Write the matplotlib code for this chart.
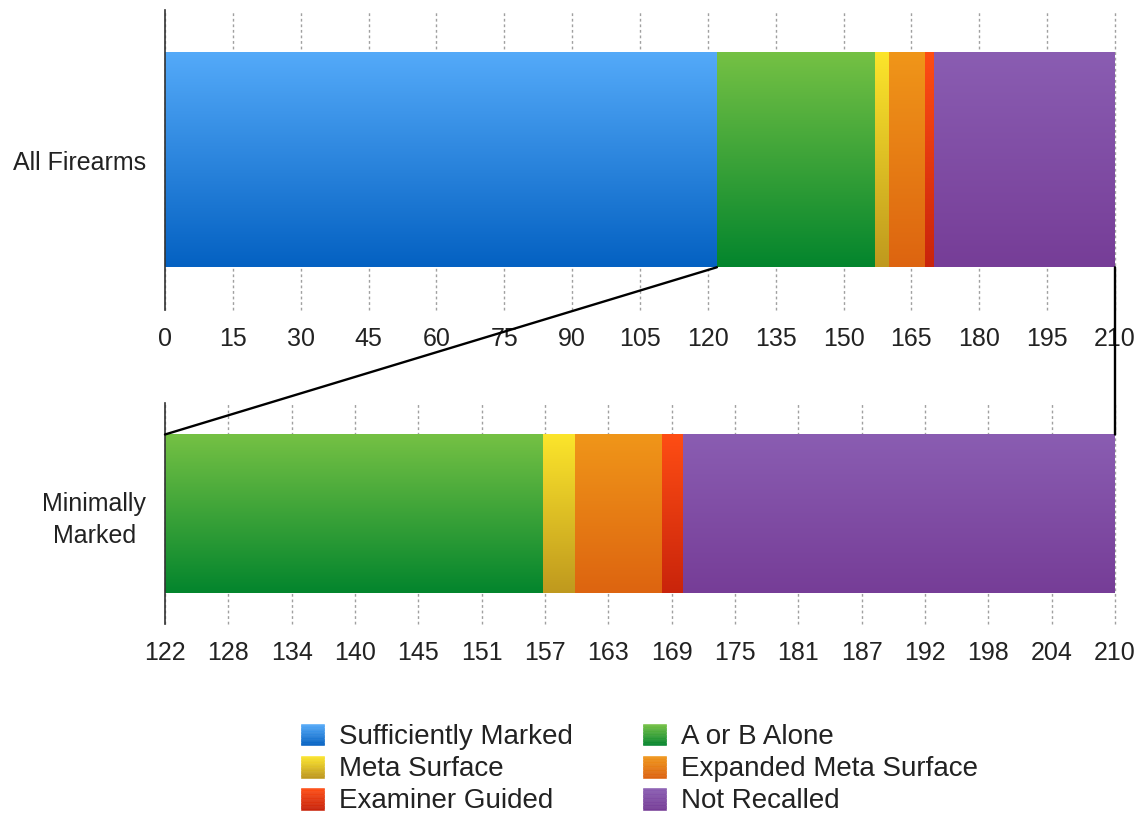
import matplotlib
matplotlib.use("Agg")
import matplotlib.pyplot as plt
import matplotlib.colors as mcolors
from matplotlib.patches import Rectangle, ConnectionPatch
from matplotlib.legend_handler import HandlerBase
import numpy as np

plt.rcParams['font.family'] = ['Liberation Sans', 'DejaVu Sans']

# data
categories = ["Sufficiently Marked", "A or B Alone", "Meta Surface",
              "Expanded Meta Surface", "Examiner Guided", "Not Recalled"]
all_firearms = [122, 35, 3, 8, 2, 40]
minimally_marked = [0, 35, 3, 8, 2, 40]   # starts where sufficiently marked ends
row_labels = ["All Firearms", "Minimally\nMarked"]
top_ticks = [0, 15, 30, 45, 60, 75, 90, 105, 120, 135, 150, 165, 180, 195, 210]
bottom_tick_labels = [122, 128, 134, 140, 145, 151, 157, 163, 169, 175,
                      181, 187, 192, 198, 204, 210]

# gradient colors (top, bottom) per category
grad_colors = [("#54aaf9", "#0461c2"),
               ("#75c144", "#03852d"),
               ("#fce52b", "#bf991e"),
               ("#f09619", "#dd6410"),
               ("#fe4d14", "#c9240b"),
               ("#8a5db2", "#763d97")]

TEXT = "#222222"
FS = 18
LEG_FS = 20
BAR_H = 0.715


def grad_cmap(top, bot):
    return mcolors.LinearSegmentedColormap.from_list("g", [top, bot])


def gradient_bars(ax, start, widths, skip_zero=True):
    left = start
    for w, (top, bot) in zip(widths, grad_colors):
        if w == 0 and skip_zero:
            continue
        bars = ax.barh(0, w, left=left, height=BAR_H, color="none", zorder=2)
        for p in bars:
            x, y = p.get_x(), p.get_y()
            img = np.linspace(0, 1, 256).reshape(-1, 1)
            ax.imshow(img, cmap=grad_cmap(top, bot), aspect="auto", origin="upper",
                      extent=(x, x + p.get_width(), y, y + p.get_height()), zorder=2)
        left += w


def style_axis(ax, ticks, labels, lo, hi, pad):
    ax.set_xlim(lo, hi)
    ax.set_ylim(-0.5, 0.5)
    ax.set_xticks(ticks)
    ax.set_xticklabels([str(t) for t in labels])
    ax.tick_params(axis="x", length=0, pad=pad, labelsize=FS, labelcolor=TEXT)
    ax.tick_params(axis="y", length=0, pad=13.5, labelsize=FS, labelcolor=TEXT)
    for s in ["top", "right", "bottom"]:
        ax.spines[s].set_visible(False)
    ax.spines["left"].set_color("#333333")
    ax.spines["left"].set_linewidth(1.2)
    ax.spines["left"].set_zorder(3)
    ax.grid(axis="x", color="#a0a0a0", linestyle=(0, (2, 2)), linewidth=1, zorder=0)
    for gl in ax.get_xgridlines():
        gl.set_clip_on(False)
    ax.set_axisbelow(True)


class GradSwatch:
    def __init__(self, top, bot):
        self.top, self.bot = top, bot


class GradHandler(HandlerBase):
    def create_artists(self, legend, orig_handle, xdescent, ydescent,
                       width, height, fontsize, trans):
        cm = grad_cmap(orig_handle.top, orig_handle.bot)
        n = 16
        arts = []
        for i in range(n):
            c = cm(i / (n - 1))
            y0 = -ydescent + height * (1 - (i + 1) / n)
            arts.append(Rectangle((-xdescent, y0), width, height / n,
                                  facecolor=c, edgecolor=c, lw=0.4, transform=trans))
        return arts


fig = plt.figure(figsize=(11.41, 8.13), dpi=100)
ax1 = fig.add_axes([165 / 1141, 1 - 310 / 813, 950 / 1141, 300 / 813])
ax2 = fig.add_axes([165 / 1141, 1 - 624 / 813, 950 / 1141, 221 / 813])

gradient_bars(ax1, 0, all_firearms)
style_axis(ax1, top_ticks, top_ticks, 0, 210, 12)
ax1.set_yticks([0])
ax1.set_yticklabels([row_labels[0]])

zoom_start = all_firearms[0]
zoom_end = sum(all_firearms)
gradient_bars(ax2, zoom_start, minimally_marked)
bpos = np.linspace(zoom_start, zoom_end, len(bottom_tick_labels))
style_axis(ax2, bpos, bottom_tick_labels, zoom_start, zoom_end, 12.5)
ax2.set_yticks([0])
ax2.set_yticklabels([row_labels[1]], multialignment="center", linespacing=1.4)

# connector lines between the two bars
for xa in [zoom_start, zoom_end]:
    con = ConnectionPatch(xyA=(xa, -BAR_H / 2), coordsA=ax1.transData,
                          xyB=(xa, BAR_H / 2), coordsB=ax2.transData,
                          color="black", linewidth=1.7, zorder=10)
    fig.add_artist(con)

handles = [GradSwatch(t, b) for t, b in grad_colors]
# order for two columns: col1 = 0,2,4 ; col2 = 1,3,5
order = [0, 2, 4, 1, 3, 5]
leg = fig.legend([handles[i] for i in order], [categories[i] for i in order],
                 handler_map={GradSwatch: GradHandler()},
                 loc="upper center", bbox_to_anchor=(0.5605, 0.127), ncol=2,
                 frameon=False, fontsize=LEG_FS, handlelength=0.83, handleheight=0.83,
                 handletextpad=0.54, columnspacing=2.55, labelspacing=0.2,
                 borderpad=0)
for t in leg.get_texts():
    t.set_color(TEXT)

fig.savefig("out.png", dpi=100)
